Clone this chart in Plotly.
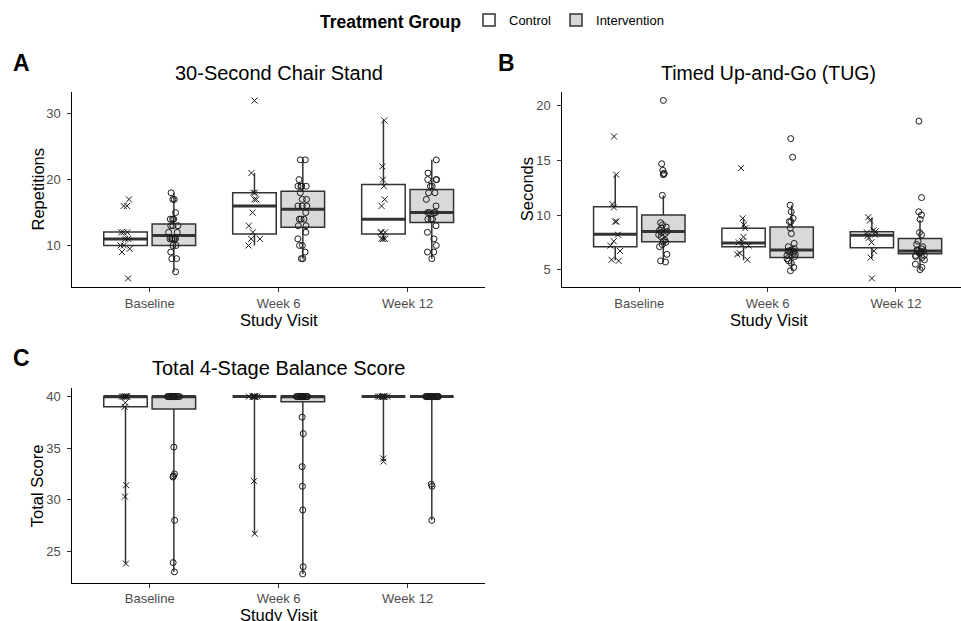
import plotly.graph_objects as go

W, H = 961, 621

visits = ["Baseline", "Week 6", "Week 12"]

# ---------------- Panel A: 30-Second Chair Stand (repetitions) ----------------
chair_control_base = [17, 16, 16, 12, 12, 12, 11, 11, 10, 10, 9.5, 9, 5]
chair_control_w6 = [32, 21, 18, 18, 17, 17, 15, 13, 12, 11, 11, 10]
chair_control_w12 = [29, 22, 20, 19, 17, 16, 12, 12, 12, 11, 11, 11]
chair_interv_base = [18, 17, 17, 15, 14, 14, 14, 13, 13, 13, 12, 12, 11, 11, 11, 11, 11, 11, 10, 10, 9, 8, 8, 6]
chair_interv_w6 = [23, 23, 20, 19, 19, 19, 19, 18, 17, 17, 16, 16, 16, 15, 14, 14, 14, 13, 13, 12, 11, 10, 10, 9, 8, 8]
chair_interv_w12 = [23, 21, 20, 20, 20, 19, 19, 18, 18, 17, 16, 15, 15, 15, 15, 14, 14, 14, 13, 12, 11, 10, 9, 9, 8]

chair_control_q1 = [10, 11.75, 11.75]
chair_control_med = [11, 16, 14]
chair_control_q3 = [12.05, 18, 19.25]
chair_control_lo = [10, 10, 11]
chair_control_hi = [12.05, 21, 29]
chair_interv_q1 = [10, 12.75, 13.5]
chair_interv_med = [11.5, 15.5, 15]
chair_interv_q3 = [13.25, 18.25, 18.5]
chair_interv_lo = [6, 8, 8]
chair_interv_hi = [18, 23, 23]

# ---------------- Panel B: Timed Up-and-Go (seconds) ----------------
tug_control_base = [17.2, 13.7, 11.0, 10.7, 9.4, 9.4, 8.2, 7.6, 7.2, 6.7, 5.9, 5.8]
tug_control_w6 = [14.3, 9.7, 9.1, 8.8, 8.0, 7.6, 7.5, 7.3, 7.2, 6.5, 6.4, 5.9]
tug_control_w12 = [9.8, 9.5, 8.6, 8.5, 8.4, 8.2, 8.1, 7.9, 7.5, 6.7, 6.1, 4.2]
tug_interv_base = [20.5, 14.7, 14.1, 13.8, 13.8, 13.7, 11.8, 9.3, 9.1, 8.9, 8.8, 8.6, 8.5, 8.4, 8.3, 8.2, 8.0, 7.7, 7.6, 7.5, 7.3, 7.1, 6.4, 5.8, 5.7]
tug_interv_w6 = [17.0, 15.3, 10.9, 10.3, 9.7, 9.4, 9.4, 8.8, 8.3, 7.4, 7.1, 6.9, 6.8, 6.7, 6.7, 6.6, 6.5, 6.4, 6.3, 6.2, 6.0, 5.8, 5.6, 5.2, 4.9]
tug_interv_w12 = [18.6, 11.6, 10.3, 10.0, 9.6, 8.4, 8.2, 7.6, 7.3, 7.1, 6.9, 6.8, 6.7, 6.7, 6.6, 6.5, 6.3, 6.3, 6.2, 6.1, 5.9, 5.5, 5.2, 5.0]

tug_control_q1 = [7.1, 7.1, 7.0]
tug_control_med = [8.25, 7.45, 8.15]
tug_control_q3 = [10.75, 8.78, 8.47]
tug_control_lo = [5.85, 5.85, 6.05]
tug_control_hi = [13.7, 9.7, 9.75]
tug_interv_q1 = [7.55, 6.1, 6.45]
tug_interv_med = [8.5, 6.8, 6.7]
tug_interv_q3 = [10.0, 8.9, 7.85]
tug_interv_lo = [5.75, 4.9, 5.0]
tug_interv_hi = [11.8, 10.9, 9.55]

# ---------------- Panel C: Total 4-Stage Balance Score ----------------
bal_control_base = [40, 40, 40, 40, 40, 40, 40, 39.4, 39.0, 31.4, 30.3, 23.8]
bal_control_w6 = [40, 40, 40, 40, 40, 40, 40, 40, 40, 40, 31.8, 26.7]
bal_control_w12 = [40, 40, 40, 40, 40, 40, 40, 40, 40, 40, 34.0, 33.7]
bal_interv_base = [40, 40, 40, 40, 40, 40, 40, 40, 40, 40, 40, 40, 40, 40, 40, 40, 40, 40,
                   35.1, 32.5, 32.3, 32.2, 28.0, 23.9, 23.0]
bal_interv_w6 = [40, 40, 40, 40, 40, 40, 40, 40, 40, 40, 40, 40, 40, 40, 40, 40, 40, 40,
                 38.0, 36.4, 33.2, 31.3, 29.0, 23.5, 22.8]
bal_interv_w12 = [40, 40, 40, 40, 40, 40, 40, 40, 40, 40, 40, 40, 40, 40, 40, 40, 40, 40, 40, 40, 40, 40,
                  31.5, 31.3, 28.0]

bal_control_q1 = [39.0, 40, 40]
bal_control_med = [40, 40, 40]
bal_control_q3 = [40, 40, 40]
bal_control_lo = [23.8, 26.7, 33.75]
bal_control_hi = [40, 40, 40]
bal_interv_q1 = [38.8, 39.5, 40]
bal_interv_med = [40, 40, 40]
bal_interv_q3 = [40, 40, 40]
bal_interv_lo = [23.0, 22.8, 28.0]
bal_interv_hi = [40, 40, 40]

# ---------------- styling ----------------
BOX_LINE = "#333333"
PT_COLOR = "#1a1a1a"
FILL = {"Control": "#ffffff", "Intervention": "#d9d9d9"}
SYMBOL = {"Control": "x-thin-open", "Intervention": "circle-open"}
FONT = "Liberation Sans, Arial, sans-serif"


def py2paper(py):
    return 1 - py / H


def px2paper(px):
    return px / W


panels = [
    dict(xa="x", ya="y",
         pts={"Control": [chair_control_base, chair_control_w6, chair_control_w12],
              "Intervention": [chair_interv_base, chair_interv_w6, chair_interv_w12]},
         stats={"Control": (chair_control_q1, chair_control_med, chair_control_q3, chair_control_lo, chair_control_hi),
                "Intervention": (chair_interv_q1, chair_interv_med, chair_interv_q3, chair_interv_lo, chair_interv_hi)}),
    dict(xa="x2", ya="y2",
         pts={"Control": [tug_control_base, tug_control_w6, tug_control_w12],
              "Intervention": [tug_interv_base, tug_interv_w6, tug_interv_w12]},
         stats={"Control": (tug_control_q1, tug_control_med, tug_control_q3, tug_control_lo, tug_control_hi),
                "Intervention": (tug_interv_q1, tug_interv_med, tug_interv_q3, tug_interv_lo, tug_interv_hi)}),
    dict(xa="x3", ya="y3",
         pts={"Control": [bal_control_base, bal_control_w6, bal_control_w12],
              "Intervention": [bal_interv_base, bal_interv_w6, bal_interv_w12]},
         stats={"Control": (bal_control_q1, bal_control_med, bal_control_q3, bal_control_lo, bal_control_hi),
                "Intervention": (bal_interv_q1, bal_interv_med, bal_interv_q3, bal_interv_lo, bal_interv_hi)}),
]

fig = go.Figure()
for i, p in enumerate(panels):
    # boxes
    for grp in ["Control", "Intervention"]:
        q1, med, q3, lo, hi = p["stats"][grp]
        fig.add_trace(go.Box(
            x=visits, q1=q1, median=med, q3=q3, lowerfence=lo, upperfence=hi,
            boxpoints=False, fillcolor=FILL[grp], line=dict(color=BOX_LINE, width=1.5),
            whiskerwidth=0, offsetgroup=grp, name=grp, legendgroup=grp,
            showlegend=(i == 0), xaxis=p["xa"], yaxis=p["ya"], hoverinfo="skip"))
    # thick median lines
    for grp in ["Control", "Intervention"]:
        q1, med, q3, lo, hi = p["stats"][grp]
        fig.add_trace(go.Box(
            x=visits, q1=med, median=med, q3=med, lowerfence=med, upperfence=med,
            boxpoints=False, fillcolor="rgba(0,0,0,0)", line=dict(color=BOX_LINE, width=3),
            whiskerwidth=0, offsetgroup=grp, name=grp, legendgroup=grp,
            showlegend=False, xaxis=p["xa"], yaxis=p["ya"], hoverinfo="skip"))
    # jittered points
    for grp in ["Control", "Intervention"]:
        xs, ys = [], []
        for v, vals in zip(visits, p["pts"][grp]):
            xs += [v] * len(vals)
            ys += vals
        fig.add_trace(go.Box(
            x=xs, y=ys, boxpoints="all", jitter=0.3, pointpos=0,
            fillcolor="rgba(0,0,0,0)", line=dict(color="rgba(0,0,0,0)", width=0),
            whiskerwidth=0, offsetgroup=grp, name=grp, legendgroup=grp,
            marker=dict(symbol=SYMBOL[grp], size=6, color=PT_COLOR,
                        line=dict(width=1, color=PT_COLOR)),
            showlegend=False, xaxis=p["xa"], yaxis=p["ya"], hoverinfo="skip"))

axis_common = dict(showline=True, linecolor="black", linewidth=1.1, ticks="outside",
                   ticklen=4, tickwidth=1.1, tickcolor="#333333",
                   tickfont=dict(size=13, color="#4d4d4d", family=FONT),
                   showgrid=False, zeroline=False, automargin=False, fixedrange=True)
yaxis_extra = dict(ticklabelstandoff=4)

xdomA = [px2paper(72.3), px2paper(485)]
xdomB = [px2paper(562.3), 1.0]
ydomAB = [py2paper(287.3), py2paper(91.7)]
ydomC = [py2paper(582.7), py2paper(388.3)]

fig.update_layout(
    xaxis=dict(domain=xdomA, anchor="y", type="category", categoryorder="array",
               categoryarray=visits, range=[-0.6, 2.6], **axis_common),
    yaxis=dict(domain=ydomAB, anchor="x", range=[3.65, 33.35], tickvals=[10, 20, 30],
               **axis_common, **yaxis_extra),
    xaxis2=dict(domain=xdomB, anchor="y2", type="category", categoryorder="array",
                categoryarray=visits, range=[-0.6, 2.507], **axis_common),
    yaxis2=dict(domain=ydomAB, anchor="x2", range=[3.38, 21.3], tickvals=[5, 10, 15, 20],
                **axis_common, **yaxis_extra),
    xaxis3=dict(domain=xdomA, anchor="y3", type="category", categoryorder="array",
                categoryarray=visits, range=[-0.6, 2.6], **axis_common),
    yaxis3=dict(domain=ydomC, anchor="x3", range=[21.95, 40.8], tickvals=[25, 30, 35, 40],
                **axis_common, **yaxis_extra),
)


def ann(text, px, py, size, bold=False, angle=0, color="black"):
    t = f"<b>{text}</b>" if bold else text
    return dict(text=t, x=px2paper(px), y=py2paper(py), xref="paper", yref="paper",
                xanchor="center", yanchor="middle", showarrow=False, textangle=angle,
                font=dict(size=size, color=color, family=FONT))


annotations = [
    ann("30-Second Chair Stand", 278.5, 72.7, 20),
    ann("Timed Up-and-Go (TUG)", 768.5, 72.7, 19.5),
    ann("Total 4-Stage Balance Score", 278.8, 367.7, 20),
    ann("A", 21, 63, 23, bold=True),
    ann("B", 506, 63, 23, bold=True),
    ann("C", 21.7, 358, 23, bold=True),
    ann("Repetitions", 37, 189.5, 16.5, angle=-90),
    ann("Seconds", 526.7, 189.5, 16.5, angle=-90),
    ann("Total Score", 36.7, 485.5, 16.5, angle=-90),
    ann("Study Visit", 278.7, 320, 16.5),
    ann("Study Visit", 768.5, 320, 16.5),
    ann("Study Visit", 278.7, 614.5, 16.5),
]

fig.update_layout(
    width=W, height=H,
    margin=dict(l=0, r=0, t=0, b=0),
    plot_bgcolor="white", paper_bgcolor="white",
    boxmode="group", boxgap=0.25, boxgroupgap=0.1,
    font=dict(family=FONT, color="black"),
    annotations=annotations,
    legend=dict(orientation="h", x=px2paper(493.5), xanchor="center",
                y=py2paper(5), yanchor="top",
                title=dict(text="<b>Treatment Group</b>", font=dict(size=17.5, family=FONT), side="left"),
                font=dict(size=13, family=FONT), bgcolor="rgba(0,0,0,0)",
                traceorder="normal", itemwidth=30),
)

fig.write_html("out.html",
               config={"displayModeBar": False},
               post_script="document.body.style.margin='0';document.body.style.overflow='hidden';")
